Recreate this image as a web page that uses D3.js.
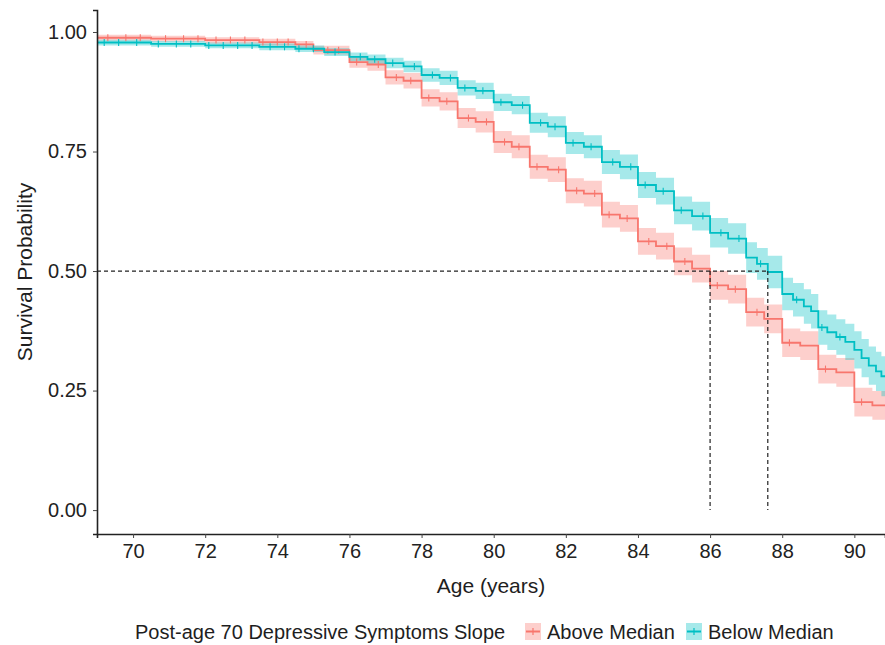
<!DOCTYPE html>
<html>
<head>
<meta charset="utf-8">
<script src="https://cdn.jsdelivr.net/npm/d3@7"></script>
<style>
  body { margin: 0; background: #fff; }
  text { font-family: "Liberation Sans", Arial, sans-serif; fill: #1e1e1e; }
</style>
</head>
<body>
<svg id="chart"></svg>
<script>
// ages / tick values
var ageTicks = [70, 72, 74, 76, 78, 80, 82, 84, 86, 88, 90]
var survTicks = [0, 0.25, 0.5, 0.75, 1]
var groups = ["Above Median", "Below Median"]
var colors = ["#F8766D", "#00BFC4"]
var medians = [86.0, 87.6]

// Above Median (steep slope) group
var aboveTime = [69, 70.5, 72, 73.5, 74.5, 75, 76, 76.5, 77, 77.5, 78, 78.5, 79, 79.5, 80, 80.5, 81, 81.5, 82, 82.5, 83, 83.5, 84, 84.5, 85, 85.5, 86, 86.5, 87, 87.5, 88, 88.5, 89, 89.5, 90, 90.5]
var aboveSurv = [0.988, 0.986, 0.983, 0.979, 0.974, 0.962, 0.937, 0.932, 0.905, 0.898, 0.862, 0.855, 0.820, 0.812, 0.770, 0.760, 0.718, 0.712, 0.668, 0.662, 0.618, 0.610, 0.562, 0.552, 0.520, 0.505, 0.470, 0.462, 0.414, 0.400, 0.350, 0.344, 0.295, 0.288, 0.226, 0.219]
var aboveLower = [0.982, 0.980, 0.976, 0.972, 0.966, 0.953, 0.925, 0.919, 0.890, 0.882, 0.844, 0.836, 0.799, 0.790, 0.747, 0.736, 0.693, 0.686, 0.642, 0.635, 0.591, 0.582, 0.534, 0.524, 0.491, 0.476, 0.440, 0.432, 0.384, 0.370, 0.320, 0.314, 0.265, 0.258, 0.196, 0.189]
var aboveUpper = [0.994, 0.992, 0.989, 0.986, 0.981, 0.971, 0.949, 0.945, 0.920, 0.914, 0.880, 0.874, 0.841, 0.834, 0.793, 0.784, 0.743, 0.738, 0.694, 0.689, 0.645, 0.638, 0.590, 0.580, 0.549, 0.534, 0.500, 0.492, 0.444, 0.430, 0.380, 0.374, 0.325, 0.318, 0.256, 0.249]
var aboveCensor = [69.3, 69.8, 70.2, 70.9, 71.4, 71.8, 72.3, 72.7, 73.1, 73.6, 74.0, 74.3, 74.8, 75.4, 75.7, 76.2, 76.8, 77.3, 77.7, 78.2, 78.7, 79.3, 79.8, 80.3, 80.7, 81.2, 81.8, 82.3, 82.8, 83.2, 83.7, 84.3, 84.8, 85.3, 86.2, 86.7, 87.3, 88.2, 89.2, 90.2]

// Below Median group
var belowTime = [69, 70.5, 72, 73.5, 74.5, 75.3, 76, 76.5, 77, 77.5, 78, 78.5, 79, 79.5, 80, 80.5, 81, 81.5, 82, 82.5, 83, 83.5, 84, 84.5, 85, 85.5, 86, 86.5, 87, 87.3, 87.6, 88, 88.3, 88.6, 88.8, 89, 89.25, 89.5, 89.75, 90, 90.2, 90.4, 90.6, 90.75]
var belowSurv = [0.978, 0.975, 0.972, 0.969, 0.965, 0.958, 0.948, 0.943, 0.935, 0.928, 0.910, 0.904, 0.883, 0.877, 0.853, 0.847, 0.810, 0.802, 0.768, 0.760, 0.728, 0.718, 0.680, 0.667, 0.627, 0.615, 0.580, 0.568, 0.528, 0.515, 0.498, 0.452, 0.440, 0.426, 0.416, 0.382, 0.372, 0.362, 0.352, 0.335, 0.318, 0.302, 0.290, 0.280]
var belowLower = [0.972, 0.969, 0.966, 0.962, 0.958, 0.950, 0.939, 0.933, 0.924, 0.916, 0.896, 0.889, 0.867, 0.860, 0.835, 0.828, 0.789, 0.780, 0.745, 0.736, 0.703, 0.692, 0.653, 0.639, 0.598, 0.585, 0.549, 0.536, 0.496, 0.482, 0.464, 0.418, 0.405, 0.390, 0.380, 0.346, 0.335, 0.325, 0.314, 0.296, 0.278, 0.262, 0.249, 0.238]
var belowUpper = [0.984, 0.981, 0.978, 0.976, 0.972, 0.966, 0.957, 0.953, 0.946, 0.940, 0.924, 0.919, 0.899, 0.894, 0.871, 0.866, 0.831, 0.824, 0.791, 0.784, 0.753, 0.744, 0.707, 0.695, 0.656, 0.645, 0.611, 0.600, 0.560, 0.548, 0.532, 0.486, 0.475, 0.462, 0.452, 0.418, 0.409, 0.399, 0.390, 0.374, 0.358, 0.342, 0.331, 0.322]
var belowCensor = [69.2, 69.6, 70.1, 70.7, 71.2, 71.6, 72.1, 72.5, 72.9, 73.3, 73.8, 74.2, 74.6, 75.0, 75.6, 76.3, 76.7, 77.2, 77.8, 78.3, 78.8, 79.2, 79.7, 80.2, 80.8, 81.3, 81.7, 82.2, 82.7, 83.3, 83.8, 84.2, 84.7, 85.2, 85.8, 86.3, 86.8, 87.4, 88.4, 89.1, 89.6]

var margin = {top: 10, right: 0, bottom: 111, left: 97},
    width = 885 - margin.left - margin.right,
    height = 645 - margin.top - margin.bottom

var svg = d3.select("#chart")
    .attr("width", 885)
    .attr("height", 645)

var g = svg.append("g")
    .attr("transform", "translate(" + margin.left + "," + margin.top + ")")

var xMax = 90.85
var x = d3.scaleLinear().domain([69, xMax]).range([0, width])
var y = d3.scaleLinear().domain([-0.05, 1.046]).range([height, 0])

g.append("clipPath").attr("id", "clip")
    .append("rect").attr("width", width).attr("height", height)

var plot = g.append("g").attr("clip-path", "url(#clip)")

function makeRows(times, surv, lo, hi) {
    var rows = times.map(function (t, i) { return {t: t, s: surv[i], lo: lo[i], hi: hi[i]} })
    var last = rows[rows.length - 1]
    rows.push({t: xMax, s: last.s, lo: last.lo, hi: last.hi})
    return rows
}

var series = [
    {rows: makeRows(aboveTime, aboveSurv, aboveLower, aboveUpper), censor: aboveCensor, color: colors[0]},
    {rows: makeRows(belowTime, belowSurv, belowLower, belowUpper), censor: belowCensor, color: colors[1]}
]

var area = d3.area()
    .curve(d3.curveStepAfter)
    .x(function (d) { return x(d.t) })
    .y0(function (d) { return y(d.lo) })
    .y1(function (d) { return y(d.hi) })

var line = d3.line()
    .curve(d3.curveStepAfter)
    .x(function (d) { return x(d.t) })
    .y(function (d) { return y(d.s) })

// confidence bands first
series.forEach(function (s) {
    plot.append("path")
        .attr("d", area(s.rows))
        .style("fill", s.color)
        .style("opacity", 0.35)
})

// survival step lines + censor marks
series.forEach(function (s) {
    plot.append("path")
        .attr("d", line(s.rows))
        .style("fill", "none")
        .style("stroke", s.color)
        .style("stroke-width", 1.8)

    var bis = d3.bisector(function (d) { return d.t }).right
    plot.selectAll(null)
        .data(s.censor)
        .enter()
        .append("line")
        .attr("x1", function (c) { return x(c) })
        .attr("x2", function (c) { return x(c) })
        .attr("y1", function (c) { return y(s.rows[bis(s.rows, c) - 1].s) - 3.5 })
        .attr("y2", function (c) { return y(s.rows[bis(s.rows, c) - 1].s) + 3.5 })
        .style("stroke", s.color)
        .style("stroke-width", 1.1)
})

// median reference lines
g.append("line")
    .attr("x1", 0).attr("x2", x(d3.max(medians)))
    .attr("y1", y(0.5)).attr("y2", y(0.5))
    .style("stroke", "#222").style("stroke-width", 1.2).style("stroke-dasharray", "4,3")

g.selectAll(".median")
    .data(medians)
    .enter()
    .append("line")
    .attr("class", "median")
    .attr("x1", function (d) { return x(d) }).attr("x2", function (d) { return x(d) })
    .attr("y1", y(0.5)).attr("y2", y(0))
    .style("stroke", "#222").style("stroke-width", 1.2).style("stroke-dasharray", "4,3")

// axes
var xAxis = g.append("g")
    .attr("transform", "translate(0," + height + ")")
    .call(d3.axisBottom(x).tickValues(ageTicks).tickSize(4).tickPadding(6).tickFormat(d3.format("d")))

var yAxis = g.append("g")
    .call(d3.axisLeft(y).tickValues(survTicks).tickSize(4).tickPadding(6).tickFormat(d3.format(".2f")))

;[xAxis, yAxis].forEach(function (a) {
    a.select(".domain").style("stroke", "#222").style("stroke-width", 1.6)
    a.selectAll(".tick line").style("stroke", "#444")
    a.selectAll(".tick text").style("font-size", "20px").style("fill", "#222")
        .style("font-family", "'Liberation Sans', Arial, sans-serif")
})

g.append("text")
    .attr("x", width / 2)
    .attr("y", height + 59)
    .attr("text-anchor", "middle")
    .style("font-size", "21px")
    .text("Age (years)")

g.append("text")
    .attr("transform", "rotate(-90)")
    .attr("x", -height / 2)
    .attr("y", -65)
    .attr("text-anchor", "middle")
    .style("font-size", "21px")
    .text("Survival Probability")

// legend
var legend = svg.append("g").attr("transform", "translate(0,639)")

legend.append("text")
    .attr("x", 135)
    .attr("y", 0)
    .style("font-size", "20px")
    .text("Post-age 70 Depressive Symptoms Slope")

var keyX = [525, 686]
groups.forEach(function (name, i) {
    var k = legend.append("g").attr("transform", "translate(" + keyX[i] + ",-16)")
    k.append("rect").attr("width", 16).attr("height", 17)
        .style("fill", colors[i]).style("opacity", 0.35)
    k.append("line").attr("x1", 1).attr("x2", 15).attr("y1", 8.5).attr("y2", 8.5)
        .style("stroke", colors[i]).style("stroke-width", 2)
    k.append("line").attr("x1", 8).attr("x2", 8).attr("y1", 5).attr("y2", 12)
        .style("stroke", colors[i]).style("stroke-width", 1.2)
    legend.append("text")
        .attr("x", keyX[i] + 22)
        .attr("y", 0)
        .style("font-size", "20px")
        .text(name)
})
</script>
</body>
</html>
